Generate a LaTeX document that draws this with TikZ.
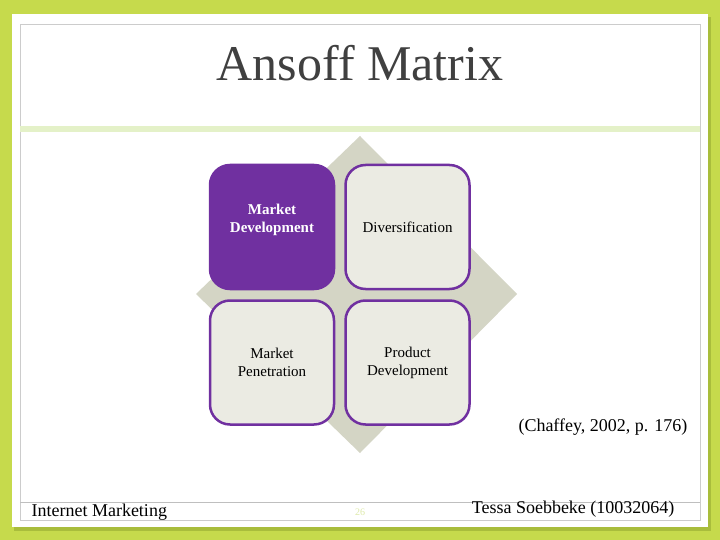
\documentclass[tikz,border=0pt]{standalone}
\usepackage{fontspec}
\setmainfont{Liberation Serif}
\usetikzlibrary{positioning}
\definecolor{slidegreen}{RGB}{198,218,76}
\definecolor{shadegreen}{RGB}{150,170,50}
\definecolor{bandgreen}{RGB}{228,241,200}
\definecolor{diamondgrey}{RGB}{212,213,197}
\definecolor{cellgrey}{RGB}{235,235,227}
\definecolor{ansoffpurple}{RGB}{112,48,160}
\definecolor{titlegrey}{RGB}{64,64,64}
\definecolor{pagenum}{RGB}{222,234,170}

\begin{document}
\begin{tikzpicture}[x=1pt,y=-1pt,node distance=9pt,
    cell/.style={draw=ansoffpurple,line width=2.5pt,fill=cellgrey,rounded corners=20pt,
      minimum width=124pt,minimum height=124pt,align=center,
      font=\fontsize{15}{18}\selectfont},
    foot/.style={font=\fontsize{18}{20}\selectfont}]
  \useasboundingbox (0,0) rectangle (720,540);
  \fill[slidegreen] (0,0) rectangle (720,540);
  % panel with shadow
  \fill[shadegreen,opacity=0.6] (14,17) rectangle (711,531);
  \fill[white] (12,14) rectangle (708,527);
  \draw[black!20,line width=0.8pt] (20,24) rectangle (700,520);
  \fill[bandgreen] (20,126) rectangle (700,132);
  \draw[black!25,line width=0.8pt] (20,502) -- (700,502);
  \node[font=\fontsize{50}{56}\selectfont,text=titlegrey] (title) at (360,63) {Ansoff Matrix};
  % background diamond
  \fill[diamondgrey] (360,136) -- (517,294) -- (360,453) -- (196,294) -- cycle;
  \node[cell,fill=ansoffpurple,text=white,font=\fontsize{15}{18}\selectfont\bfseries]
    (MD) at (272,227) {Market\\Development\\ };
  \node[cell] (DV) [right=of MD] {Diversification};
  \node[cell] (MP) [below=of MD] {Market\\Penetration};
  \node[cell] (PD) [right=of MP] {Product\\Development};
  \node[font=\fontsize{18}{20}\selectfont,anchor=east] (cite) at (691,427) {(Chaffey, 2002, p. 176)};
  % footer
  \node[foot,anchor=west] (course) at (28,512) {Internet Marketing};
  \node[font=\fontsize{10}{12}\selectfont,text=pagenum] (page) at (360,512) {26};
  \node[foot,anchor=east] (who) at (678,509) {Tessa Soebbeke (10032064)};
\end{tikzpicture}
\end{document}
